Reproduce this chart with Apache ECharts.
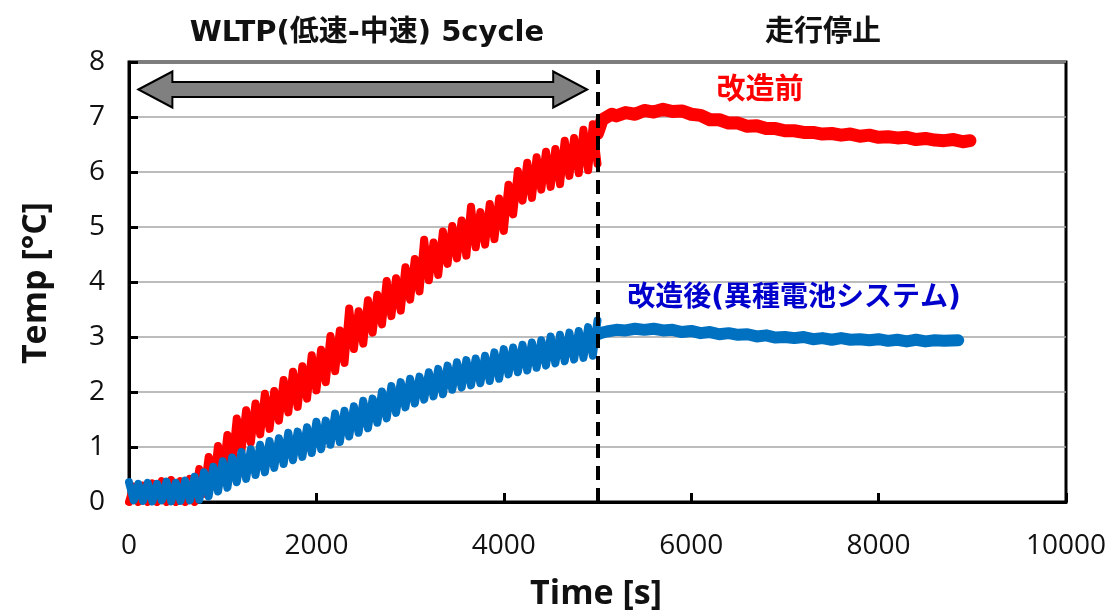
<!DOCTYPE html>
<html>
<head>
<meta charset="utf-8">
<script src="https://cdn.jsdelivr.net/npm/echarts@6.0.0/dist/echarts.min.js"></script>
<style>
  html, body { margin: 0; padding: 0; background: #fff; }
  #chart { width: 1110px; height: 611px; }
</style>
</head>
<body>
<div id="chart"></div>
<script>
// Battery temperature rise during 5 WLTP (low/mid speed) cycles, then parked.
// Drive phase is sampled every 50 s; rest phase at the listed times.
const DRIVE_STEP = 50;

// 改造前 (original pack), drive phase 0–5000 s
const redDrive = [
  0.0,0.28,0.0,0.3,0.0,0.34,0.0,0.38,0.0,0.4,
  0.0,0.38,0.0,0.42,0.0,0.6,0.15,0.82,0.31,1.02,
  0.48,1.22,0.68,1.52,0.93,1.67,1.08,1.79,1.23,1.97,
  1.33,2.02,1.48,2.22,1.63,2.37,1.73,2.47,1.88,2.67,
  2.03,2.77,2.18,3.02,2.38,3.12,2.53,3.52,2.78,3.47,
  2.88,3.67,3.08,3.77,3.23,4.02,3.38,4.07,3.48,4.27,
  3.68,4.42,3.83,4.77,4.03,4.72,4.13,4.92,4.33,5.02,
  4.43,5.12,4.48,5.37,4.63,5.27,4.68,5.42,4.78,5.52,
  4.93,5.77,5.23,6.02,5.48,6.17,5.53,6.27,5.68,6.37,
  5.73,6.42,5.78,6.57,5.93,6.62,5.98,6.77,6.03,6.87,
  6.15
];
// 改造前, rest phase
const redRestTime = [5000,5050,5100,5150,5200,5300,5400,5500,5600,5700,5800,5900,6000,6100,6200,6300,6400,6500,6600,6700,6800,6900,7000,7100,7200,7300,7400,7500,7600,7700,7800,7900,8000,8100,8200,8300,8400,8500,8600,8700,8800,8900,8975];
const redRest = [6.7,6.95,7.0,7.05,7.02,7.08,7.05,7.12,7.09,7.14,7.1,7.11,7.05,7.03,6.95,6.95,6.89,6.89,6.83,6.84,6.79,6.79,6.75,6.75,6.72,6.72,6.69,6.7,6.67,6.69,6.65,6.67,6.63,6.64,6.62,6.63,6.59,6.61,6.58,6.57,6.59,6.55,6.57];

// 改造後 (hybrid battery system), drive phase 0–5000 s
const blueDrive = [
  0.36,0.03,0.33,0.02,0.35,0.01,0.33,0.03,0.37,0.01,
  0.35,0.02,0.39,0.03,0.46,0.04,0.54,0.1,0.64,0.19,
  0.74,0.26,0.81,0.36,0.91,0.42,0.96,0.49,1.04,0.54,
  1.11,0.62,1.16,0.69,1.26,0.76,1.28,0.82,1.36,0.89,
  1.46,0.96,1.48,1.04,1.61,1.09,1.66,1.19,1.74,1.26,
  1.84,1.34,1.88,1.44,2.01,1.52,2.11,1.62,2.18,1.72,
  2.24,1.79,2.28,1.86,2.36,1.92,2.42,1.96,2.48,2.04,
  2.54,2.08,2.58,2.12,2.61,2.16,2.66,2.2,2.72,2.24,
  2.78,2.32,2.81,2.36,2.86,2.39,2.9,2.44,2.94,2.48,
  3.01,2.52,3.04,2.56,3.08,2.59,3.11,2.62,3.18,2.66,
  3.3
];
// 改造後, rest phase
const blueRestTime = [5000,5050,5100,5200,5300,5400,5500,5600,5700,5800,5900,6000,6100,6200,6300,6400,6500,6600,6700,6800,6900,7000,7100,7200,7300,7400,7500,7600,7700,7800,7900,8000,8100,8200,8300,8400,8500,8600,8700,8850];
const blueRest = [3.05,3.08,3.1,3.13,3.12,3.15,3.13,3.15,3.12,3.13,3.09,3.11,3.07,3.09,3.05,3.07,3.04,3.05,3.01,3.03,2.99,3.0,2.98,3.0,2.96,2.98,2.95,2.98,2.95,2.96,2.94,2.96,2.93,2.95,2.92,2.95,2.92,2.94,2.93,2.94];

// Axis ticks
const xTicks = [0, 2000, 4000, 6000, 8000, 10000];
const yTicks = [0, 1, 2, 3, 4, 5, 6, 7, 8];

// Phase boundary and the drive-span arrow
const driveEnd = 5000;
const arrowFrom = 100;
const arrowTo = 4890;
const arrowLevel = 7.5;

const RED = '#FF0000';
const BLUE = '#0070C0';
const LATIN_CJK = "'DejaVu Sans', 'Noto Sans CJK JP', sans-serif";

const drivePairs = vals => vals.map((v, i) => [i * DRIVE_STEP, v]);
const zip = (ts, vs) => ts.map((t, i) => [t, vs[i]]);

const chart = echarts.init(document.getElementById('chart'), null, { renderer: 'canvas' });

const lineBase = {
  type: 'line',
  showSymbol: false,
  symbol: 'none',
  animation: false,
  silent: true,
  smooth: false
};

chart.setOption({
  animation: false,
  grid: {
    left: 129, right: 44, top: 62, bottom: 109,
    show: true, borderColor: '#000', borderWidth: 3, backgroundColor: 'transparent'
  },
  xAxis: {
    type: 'value',
    min: xTicks[0], max: xTicks[xTicks.length - 1], interval: xTicks[1] - xTicks[0],
    axisLine: { show: true, onZero: false, lineStyle: { color: '#000', width: 3 } },
    axisTick: { show: true, inside: true, length: 9, lineStyle: { color: '#000', width: 3 } },
    axisLabel: { margin: 30, color: '#111', fontFamily: 'Open Sans', fontSize: 28, formatter: v => String(v) },
    splitLine: { show: false }
  },
  yAxis: {
    type: 'value',
    min: yTicks[0], max: yTicks[yTicks.length - 1], interval: yTicks[1] - yTicks[0],
    axisLine: { show: true, onZero: false, lineStyle: { color: '#000', width: 3 } },
    axisTick: { show: true, inside: true, length: 9, lineStyle: { color: '#000', width: 3 } },
    axisLabel: { margin: 24, color: '#111', fontFamily: 'Open Sans', fontSize: 28, formatter: v => String(v) },
    splitLine: { show: true, lineStyle: { color: '#A6A6A6', width: 1.5 } }
  },
  series: [
    Object.assign({}, lineBase, {
      name: '改造前',
      data: drivePairs(redDrive),
      lineStyle: { color: RED, width: 8, cap: 'round', join: 'round' },
      z: 2
    }),
    Object.assign({}, lineBase, {
      name: '改造前 停止',
      data: zip(redRestTime, redRest),
      lineStyle: { color: RED, width: 13, cap: 'round', join: 'round' },
      z: 2
    }),
    Object.assign({}, lineBase, {
      name: '改造後',
      data: drivePairs(blueDrive),
      lineStyle: { color: BLUE, width: 8, cap: 'round', join: 'round' },
      z: 3
    }),
    Object.assign({}, lineBase, {
      name: '改造後 停止',
      data: zip(blueRestTime, blueRest),
      lineStyle: { color: BLUE, width: 12, cap: 'round', join: 'round' },
      z: 3,
      markLine: {
        silent: true,
        symbol: 'none',
        label: { show: false },
        lineStyle: { color: '#000', width: 4, type: [14, 8] },
        data: [{ xAxis: driveEnd }],
        z: 10
      }
    })
  ]
});

// Double-headed arrow spanning the drive phase, placed in data space
const a0 = chart.convertToPixel({ gridIndex: 0 }, [arrowFrom, arrowLevel]);
const a1 = chart.convertToPixel({ gridIndex: 0 }, [arrowTo, arrowLevel]);
const head = 34, headHalf = 18, shaftHalf = 7.5;
const ay = a0[1];
const arrowPts = [
  [a0[0], ay],
  [a0[0] + head, ay - headHalf],
  [a0[0] + head, ay - shaftHalf],
  [a1[0] - head, ay - shaftHalf],
  [a1[0] - head, ay - headHalf],
  [a1[0], ay],
  [a1[0] - head, ay + headHalf],
  [a1[0] - head, ay + shaftHalf],
  [a0[0] + head, ay + shaftHalf],
  [a0[0] + head, ay + headHalf]
];

chart.setOption({
  graphic: [
    {
      type: 'polygon',
      shape: { points: arrowPts },
      style: { fill: '#808080', stroke: '#000', lineWidth: 2, lineJoin: 'miter' },
      z: 20, silent: true
    },
    {
      type: 'text', z: 20, x: 367, y: 33,
      style: { text: 'WLTP(低速-中速) 5cycle', font: "bold 29px " + LATIN_CJK, fill: '#111', align: 'center', verticalAlign: 'middle' }
    },
    {
      type: 'text', z: 20, x: 823, y: 33,
      style: { text: '走行停止', font: "bold 29px " + LATIN_CJK, fill: '#111', align: 'center', verticalAlign: 'middle' }
    },
    {
      type: 'text', z: 20, x: 760, y: 91,
      style: { text: '改造前', font: "bold 29px " + LATIN_CJK, fill: RED, align: 'center', verticalAlign: 'middle' }
    },
    {
      type: 'text', z: 20, x: 794, y: 299,
      style: { text: '改造後(異種電池システム)', font: "bold 28px " + LATIN_CJK, fill: '#0000CC', align: 'center', verticalAlign: 'middle' }
    },
    {
      type: 'text', z: 20, x: 596, y: 594,
      style: { text: 'Time [s]', font: "bold 34px 'Open Sans', sans-serif", fill: '#111', align: 'center', verticalAlign: 'middle' }
    },
    {
      type: 'text', z: 20, x: 36, y: 283, rotation: Math.PI / 2,
      style: { text: 'Temp [°C]', font: "bold 34px 'Open Sans', sans-serif", fill: '#111', align: 'center', verticalAlign: 'middle' }
    }
  ]
});
</script>
</body>
</html>
